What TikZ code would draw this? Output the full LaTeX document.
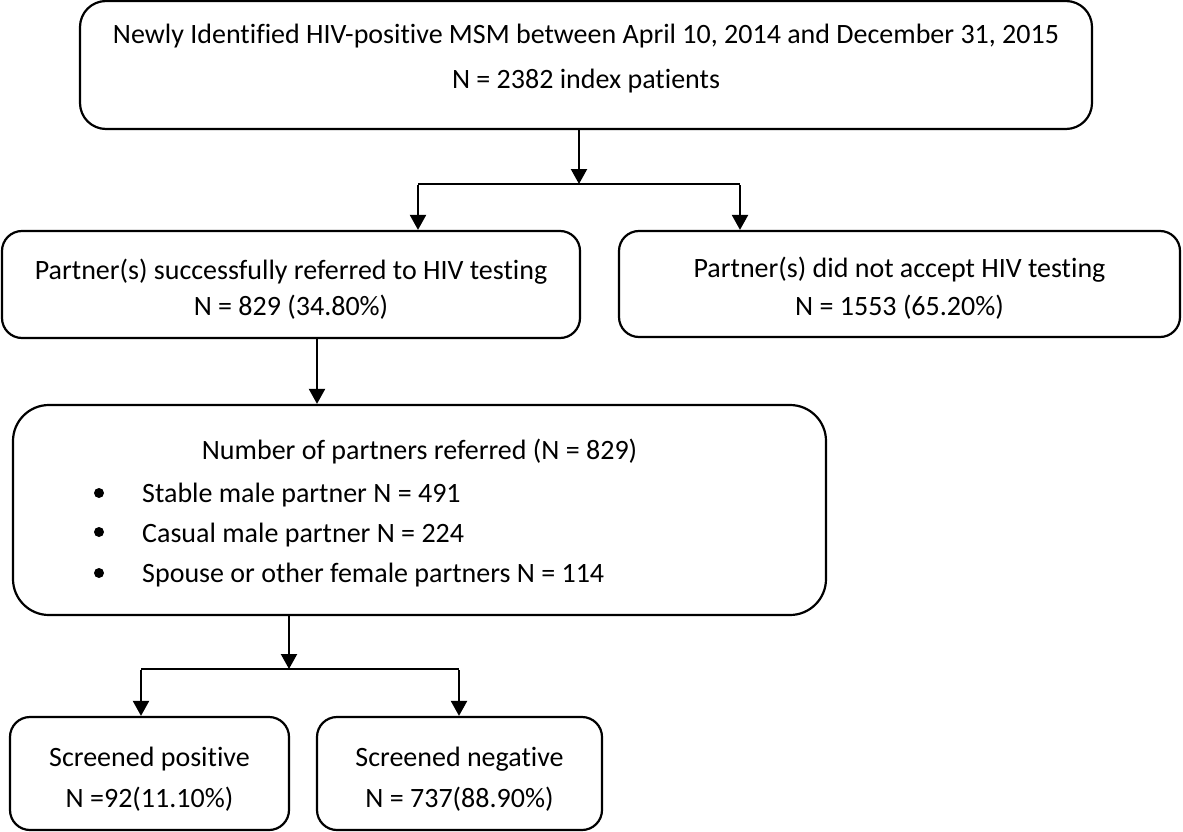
\documentclass[tikz,border=0pt]{standalone}
\usepackage{fontspec}
\setmainfont{Carlito}[Ligatures=NoCommon]
\usetikzlibrary{arrows.meta}
\begin{document}
\begin{tikzpicture}[x=1pt,y=-1pt,
  box/.style={draw=black,line width=2.2pt,rectangle,inner sep=0pt},
  txt/.style={anchor=base,inner sep=0pt,font=\fontsize{28}{32}\selectfont},
  ltxt/.style={anchor=base west,inner sep=0pt,font=\fontsize{28}{32}\selectfont},
  conn/.style={line width=2.2pt},
  arr/.style={line width=2.2pt,-{Triangle[width=16pt,length=15pt]}}]
\useasboundingbox (0,0) rectangle (1183,832);
% boxes
\node[box,rounded corners=26pt,minimum width=1012pt,minimum height=128pt] (b1) at (586,65) {};
\node[box,rounded corners=20pt,minimum width=578pt,minimum height=107pt] (b2) at (291,284.5) {};
\node[box,rounded corners=20pt,minimum width=561pt,minimum height=106pt] (b3) at (899.5,284) {};
\node[box,rounded corners=36pt,minimum width=813pt,minimum height=210pt] (b4) at (419.5,510) {};
\node[box,rounded corners=20pt,minimum width=279pt,minimum height=113pt] (b5) at (149.5,773.5) {};
\node[box,rounded corners=20pt,minimum width=285pt,minimum height=113pt] (b6) at (459.5,773.5) {};
% texts
\node[txt] (t1a) at (586,44) {Newly Identified HIV-positive MSM between April 10, 2014 and December 31, 2015};
\node[txt] (t1b) at (586,89) {N = 2382 index patients};
\node[txt] (t2a) at (291,279) {Partner(s) successfully referred to HIV testing};
\node[txt] (t2b) at (291,315) {N = 829 (34.80\%)};
\node[txt] (t3a) at (899.5,277) {Partner(s) did not accept HIV testing};
\node[txt] (t3b) at (899.5,315) {N = 1553 (65.20\%)};
\node[txt] (t4a) at (419.5,459) {Number of partners referred (N = 829)};
\fill (99,493) circle (5pt);
\fill (99,532) circle (5pt);
\fill (99,573) circle (5pt);
\node[ltxt] (t4b) at (142,502) {Stable male partner N = 491};
\node[ltxt] (t4c) at (142,542) {Casual male partner N = 224};
\node[ltxt] (t4d) at (142,582) {Spouse or other female partners N = 114};
\node[txt] (t5a) at (149.5,766) {Screened positive};
\node[txt] (t5b) at (149.5,807) {N =92(11.10\%)};
\node[txt] (t6a) at (459.5,766) {Screened negative};
\node[txt] (t6b) at (459.5,807) {N = 737(88.90\%)};
% connectors
\coordinate (j1) at (579,184);
\coordinate (j1l) at (418,184);
\coordinate (j1r) at (740,184);
\draw[arr] (b1.south -| j1) -- (j1);
\draw[conn] (j1l) -- (j1r);
\draw[arr] ([yshift=-1.1pt]j1l) -- (b2.north -| j1l);
\draw[arr] ([yshift=-1.1pt]j1r) -- (b3.north -| j1r);
\coordinate (a2) at (317,0);
\draw[arr] (b2.south -| a2) -- (b4.north -| a2);
\coordinate (j2) at (289,669);
\coordinate (j2l) at (141,669);
\coordinate (j2r) at (459,669);
\draw[arr] (b4.south -| j2) -- (j2);
\draw[conn] (j2l) -- (j2r);
\draw[arr] ([yshift=-1.1pt]j2l) -- (b5.north -| j2l);
\draw[arr] ([yshift=-1.1pt]j2r) -- (b6.north -| j2r);
\end{tikzpicture}
\end{document}
